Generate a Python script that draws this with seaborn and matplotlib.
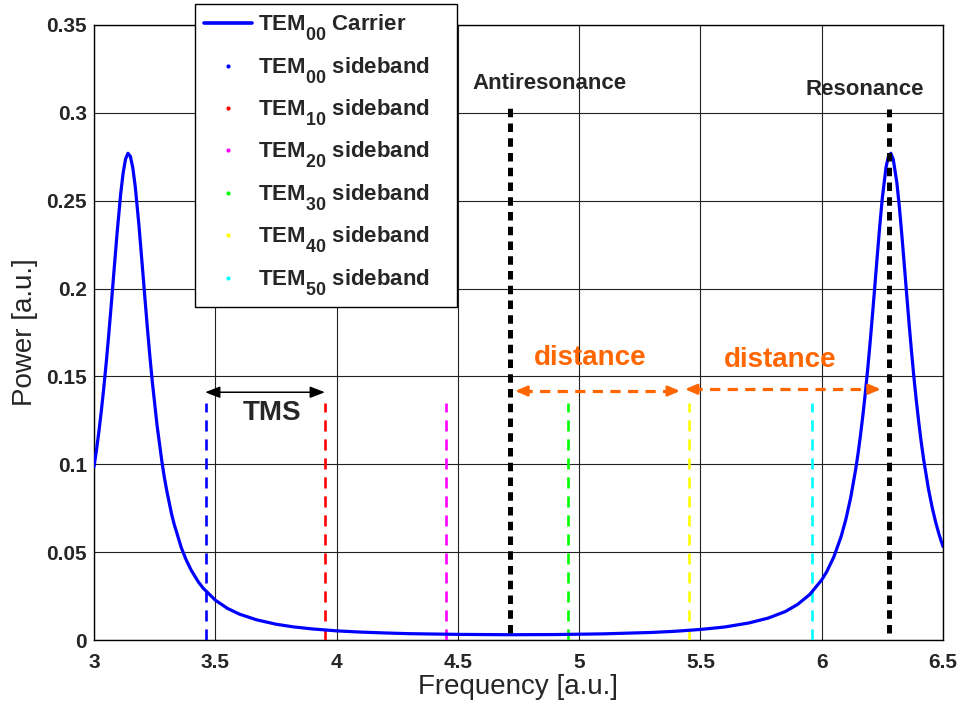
import matplotlib
matplotlib.use("Agg")
import matplotlib.pyplot as plt
from matplotlib.lines import Line2D
import matplotlib._mathtext as _mt
import seaborn as sns
import pandas as pd

# ---- data ----
freq = [3.00, 3.01, 3.02, 3.03, 3.04, 3.05, 3.06, 3.07, 3.08, 3.095, 3.11, 3.12,
        3.13, 3.14, 3.15, 3.16, 3.17, 3.185, 3.20, 3.21, 3.22, 3.23, 3.24, 3.26,
        3.28, 3.29, 3.30, 3.32, 3.33, 3.36, 3.38, 3.40, 3.43, 3.45, 3.50, 3.55,
        3.60, 3.67, 3.75, 3.82, 3.90, 4.00, 4.10, 4.20, 4.30, 4.50, 4.71, 4.90,
        5.10, 5.20, 5.30, 5.40, 5.50, 5.60, 5.70, 5.78, 5.85, 5.90, 5.95, 6.00,
        6.02, 6.05, 6.08, 6.10, 6.12, 6.14, 6.15, 6.16, 6.17, 6.18, 6.19, 6.20,
        6.21, 6.22, 6.23, 6.24, 6.25, 6.265, 6.275, 6.285, 6.295, 6.31, 6.32, 6.33,
        6.34, 6.35, 6.36, 6.37, 6.38, 6.39, 6.40, 6.41, 6.42, 6.44, 6.455, 6.47,
        6.485, 6.50]
power = [0.0985, 0.1079, 0.1184, 0.1301, 0.1431, 0.1572, 0.1726, 0.1889, 0.2059, 0.2313,
         0.2539, 0.2657, 0.2737, 0.2770, 0.2752, 0.2687, 0.2581, 0.2365, 0.2114, 0.1944,
         0.1777, 0.1620, 0.1475, 0.1221, 0.1014, 0.0926, 0.0849, 0.0716, 0.0661, 0.0525,
         0.0456, 0.0399, 0.0331, 0.0295, 0.0227, 0.0180, 0.0147, 0.0115, 0.0090, 0.0075,
         0.0063, 0.0052, 0.0045, 0.0040, 0.0036, 0.0032, 0.0030, 0.0031, 0.0035, 0.0039,
         0.0043, 0.0050, 0.0060, 0.0074, 0.0097, 0.0125, 0.0162, 0.0202, 0.0258, 0.0342,
         0.0387, 0.0473, 0.0589, 0.0689, 0.0814, 0.0971, 0.1063, 0.1167, 0.1282, 0.1409,
         0.1548, 0.1700, 0.1863, 0.2032, 0.2203, 0.2368, 0.2517, 0.2689, 0.2753, 0.2770,
         0.2735, 0.2600, 0.2466, 0.2310, 0.2142, 0.1971, 0.1803, 0.1645, 0.1497, 0.1362,
         0.1240, 0.1128, 0.1029, 0.0860, 0.0757, 0.0669, 0.0595, 0.0532]

sideband_names = ["00", "10", "20", "30", "40", "50"]
sideband_freq = [3.46, 3.952, 4.452, 4.954, 5.454, 5.96]
sideband_height = 0.135
sideband_colors = ["#0000FF", "#FF0000", "#FF00FF", "#00FF00", "#FFFF00", "#00FFFF"]

antires_freq, antires_top = 4.715, 0.305
res_freq, res_top = 6.277, 0.302

tms_span = (3.458, 3.952, 0.141)
dist1_span = (4.736, 5.416, 0.1417)
dist2_span = (5.436, 6.244, 0.1427)

xticks = [3, 3.5, 4, 4.5, 5, 5.5, 6, 6.5]
yticks = [0, 0.05, 0.1, 0.15, 0.2, 0.25, 0.3, 0.35]

# ---- style ----
sns.set_style("white")
plt.rcParams["font.family"] = ["Liberation Sans", "DejaVu Sans"]
plt.rcParams["mathtext.fontset"] = "custom"
plt.rcParams["mathtext.rm"] = "Liberation Sans"
plt.rcParams["mathtext.bf"] = "Liberation Sans:bold"
plt.rcParams["mathtext.it"] = "Liberation Sans:italic"
# MATLAB-like larger, lower subscripts in the legend
_mt.SHRINK_FACTOR = 0.8
_mt.FontConstantsBase.sub1 = 0.85

fig = plt.figure(figsize=(9.61, 7.07), dpi=100)
ax = fig.add_axes([94 / 961, 1 - 640 / 707, (943 - 94) / 961, (640 - 25) / 707])

df = pd.DataFrame({"freq": freq, "power": power})
sns.lineplot(data=df, x="freq", y="power", ax=ax, color="#0000FF", lw=2.3,
             zorder=5, legend=False)

for f, c in zip(sideband_freq, sideband_colors):
    ln, = ax.plot([f, f], [0, sideband_height], color=c, lw=1.9, zorder=4)
    ln.set_dashes((4.2, 3.0))

for f, top in [(antires_freq, antires_top), (res_freq, res_top)]:
    ln, = ax.plot([f, f], [0.004, top], color="black", lw=3.6, zorder=6)
    ln.set_dashes((1.7, 1.25))

ax.text(4.878, 0.3136, "Antiresonance", ha="center", va="baseline",
        fontsize=16, fontweight="bold", zorder=7)
ax.text(6.178, 0.3102, "Resonance", ha="center", va="baseline",
        fontsize=16, fontweight="bold", zorder=7)

# TMS arrow
ax.annotate("", xy=(tms_span[0], tms_span[2]), xytext=(tms_span[1], tms_span[2]),
            arrowprops=dict(arrowstyle="<|-|>,head_length=0.9,head_width=0.35",
                            color="black", lw=1.1, shrinkA=0, shrinkB=0), zorder=7)
ax.text(3.736, 0.1252, "TMS", ha="center", va="baseline", fontsize=20,
        fontweight="bold", zorder=7)

orange = "#FF6600"
for (x0, x1, y) in [dist1_span, dist2_span]:
    ln, = ax.plot([x0 + 0.03, x1 - 0.03], [y, y], color=orange, lw=2.3, zorder=7)
    ln.set_dashes((3.2, 2.3))
    for tip, tail in [(x0, x0 + 0.04), (x1, x1 - 0.04)]:
        ax.annotate("", xy=(tip, y), xytext=(tail, y),
                    arrowprops=dict(arrowstyle="-|>,head_length=0.7,head_width=0.3",
                                    color=orange, lw=2.0, shrinkA=0, shrinkB=0),
                    zorder=7)
ax.text(5.047, 0.1565, "distance", ha="center", va="baseline", fontsize=20,
        fontweight="bold", color=orange, zorder=7)
ax.text(5.830, 0.1556, "distance", ha="center", va="baseline", fontsize=20,
        fontweight="bold", color=orange, zorder=7)

# axes
ax.set_xlim(3, 6.5)
ax.set_ylim(0, 0.35)
ax.set_xticks(xticks)
ax.set_yticks(yticks)
ax.set_xticklabels([f"{t:g}" for t in xticks])
ax.set_yticklabels([f"{t:g}" for t in yticks])
ax.tick_params(axis="both", direction="in", length=4, width=0.8, labelsize=15)
ax.tick_params(axis="x", pad=9)
ax.tick_params(axis="y", pad=5)
for lbl in ax.get_xticklabels() + ax.get_yticklabels():
    lbl.set_fontweight("bold")
ax.grid(True, color="#222222", lw=0.8)
ax.set_axisbelow(True)
for s in ax.spines.values():
    s.set_color("black")
    s.set_linewidth(1.0)
    s.set_visible(True)
ax.set_xlabel("Frequency [a.u.]", fontsize=20, labelpad=2)
ax.set_ylabel("Power [a.u.]", fontsize=20, labelpad=6)

# legend
handles = [Line2D([], [], color="#0000FF", lw=2.6)]
labels = [r"TEM$_{\mathbf{00}}$ Carrier"]
for n, c in zip(sideband_names, sideband_colors):
    handles.append(Line2D([], [], color=c, marker=".", markersize=4, linestyle="none"))
    labels.append(r"TEM$_{\mathbf{" + n + r"}}$ sideband")
leg = fig.legend(handles, labels, loc="upper left",
                 bbox_to_anchor=(195 / 961, 1 - 306 / 707, 262 / 961, 302 / 707),
                 mode="expand", borderaxespad=0,
                 prop=dict(weight="bold", size=16), frameon=True, fancybox=False,
                 edgecolor="black", framealpha=1, handlelength=2.15,
                 handletextpad=0.3, labelspacing=0.55, borderpad=0.4)
leg.get_frame().set_linewidth(1.0)

fig.savefig("out.png", dpi=100)
